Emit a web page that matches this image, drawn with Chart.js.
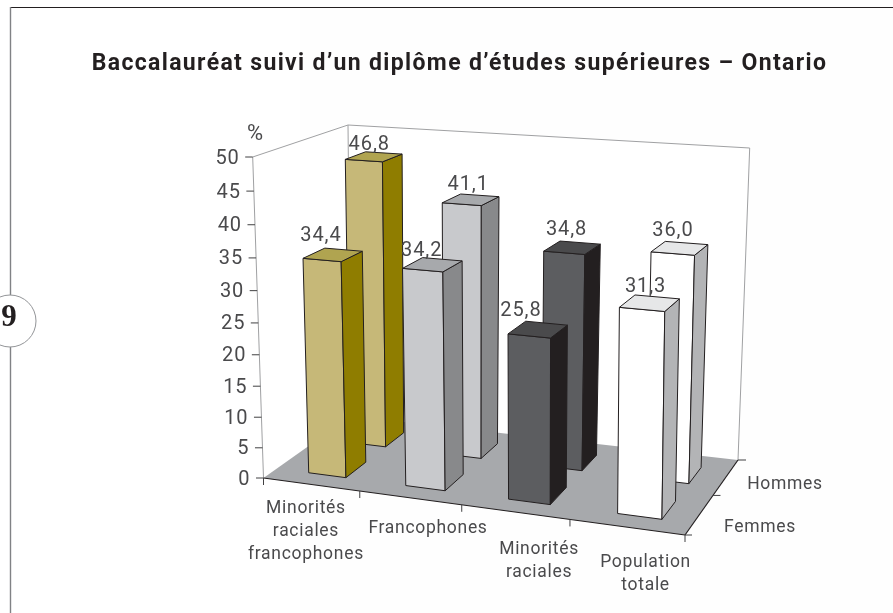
<!DOCTYPE html>
<html><head><meta charset="utf-8">
<style>html,body{margin:0;padding:0;background:#fff}canvas{display:block}</style>
<script src="https://cdn.jsdelivr.net/npm/chart.js@4"></script>
</head><body><canvas id="c" width="893" height="613"></canvas>
<script>
const categories = [["Minorités","raciales","francophones"],["Francophones"],["Minorités","raciales"],["Population","totale"]];
const femmes = [34.4,34.2,25.8,31.3];
const hommes = [46.8,41.1,34.8,36.0];
const frontColors = ["#c6b878","#c8c9cc","#5c5d60","#ffffff"];
const sideColors = ["#8f7d00","#88898b","#231f20","#b3b4b6"];
const topColors = ["#b0a450","#a7a9ac","#4a4a4c","#e6e7e8"];
const titleText = "Baccalauréat suivi d’un diplôme d’études supérieures – Ontario";
const FONT = "Roboto";

// Scene frame of the 3D box (unit cube -> picture)
const floorQuad = [[263.5,478],[685,535],[738,460],[351,416]];
const topFrame = {front:[252.7,157],backRight:[749.7,148],backLeft:[348,125]};
const depthBands = {Femmes:[0.14,0.37],Hommes:[0.61,0.84]};
const uShift = 0.009;
const labelNudge = [[-5,24],[18,31],[24,38],[19,36]];
const valueNudge = {Femmes:[[-22.5,-14],[-20.5,-8],[-25.5,-12],[-11.5,-10]],Hommes:[[-14.5,-8],[-11.5,-10],[-13.5,-13],[-13.5,-12]]};

const [[x0,y0],[x1,y1],[x2,y2],[x3,y3]] = floorQuad;
const dx1=x1-x2,dx2=x3-x2,dx3=x0-x1+x2-x3,dy1=y1-y2,dy2=y3-y2,dy3=y0-y1+y2-y3;
const den=dx1*dy2-dx2*dy1, G=(dx3*dy2-dx2*dy3)/den, H=(dx1*dy3-dx3*dy1)/den;
function numerators(P0,P3,P2){
  // same projective denominator for floor and top so that verticals stay coherent
  const c=P0, b=P3*(1+H)-c, a=P2*(1+G+H)-c-b;
  return [a,b,c];
}
const fx=numerators(x0,x3,x2), fy=numerators(y0,y3,y2);
const tx=numerators(topFrame.front[0],topFrame.backLeft[0],topFrame.backRight[0]);
const ty=numerators(topFrame.front[1],topFrame.backLeft[1],topFrame.backRight[1]);
function project(u,d,f){
  const w=G*u+H*d+1, g=f/(1.07-0.07*f);
  const px=(fx[0]*u+fx[1]*d+fx[2])/w, py=(fy[0]*u+fy[1]*d+fy[2])/w;
  const qx=(tx[0]*u+tx[1]*d+tx[2])/w, qy=(ty[0]*u+ty[1]*d+ty[2])/w;
  return [px+g*(qx-px), py+g*(qy-py)];
}
function poly(ctx,pts,fill,stroke,lw){
  ctx.beginPath();pts.forEach((p,i)=>i?ctx.lineTo(p[0],p[1]):ctx.moveTo(p[0],p[1]));ctx.closePath();
  if(fill){ctx.fillStyle=fill;ctx.fill();}
  if(stroke){ctx.strokeStyle=stroke;ctx.lineWidth=lw||1;ctx.lineJoin='round';ctx.stroke();}
}
function line(ctx,a,b,color,lw){ctx.beginPath();ctx.moveTo(a[0],a[1]);ctx.lineTo(b[0],b[1]);ctx.strokeStyle=color;ctx.lineWidth=lw||1;ctx.stroke();}
function text(ctx,s,x,y,font,color,align,sp){
  ctx.save();ctx.font=font;ctx.fillStyle=color;ctx.textAlign=align||'center';ctx.textBaseline='middle';ctx.letterSpacing=sp||'0px';ctx.fillText(s,x,y);ctx.restore();
}
class Box3D extends Chart.BarElement{
  static id='box3d';
  draw(ctx){
    const chart=this.$chart3d; if(!chart) return;
    const xs=chart.scales.x, ys=chart.scales.y;
    const U=x=>(x-xs.left)/(xs.right-xs.left)+uShift;
    const u0=U(this.x-this.width/2),u1=U(this.x+this.width/2);
    const f=(ys.bottom-this.y)/(ys.bottom-ys.top);
    const [d0,d1]=this.$band;
    const i=frontColors.indexOf(this.options.backgroundColor);
    const s='#231f20';
    ctx.save();
    poly(ctx,[project(u0,d0,0),project(u1,d0,0),project(u1,d0,f),project(u0,d0,f)],frontColors[i],s);
    poly(ctx,[project(u1,d0,0),project(u1,d1,0),project(u1,d1,f),project(u1,d0,f)],sideColors[i],s);
    poly(ctx,[project(u0,d0,f),project(u1,d0,f),project(u1,d1,f),project(u0,d1,f)],topColors[i],s);
    ctx.restore();
  }
}
class Bar3D extends Chart.BarController{
  static id='bar3d';
  static defaults={...Chart.BarController.defaults,dataElementType:'box3d'};
  updateElements(rects,start,count,mode){
    super.updateElements(rects,start,count,mode);
    rects.forEach(r=>{r.$chart3d=this.chart;r.$band=depthBands[this.getDataset().label];});
  }
}
Chart.register(Box3D,Bar3D);

const numFont='400 20px '+FONT, catFont='400 17.5px '+FONT, col='#4a4a4c';
const scene={
  id:'scene',
  beforeDraw(chart){
    const ctx=chart.ctx;
    ctx.save();
    ctx.fillStyle='#fff';ctx.fillRect(0,0,chart.width,chart.height);
    ctx.fillStyle='#fefefe';ctx.fillRect(300,0,chart.width-300,chart.height);
    line(ctx,[10,7.5],[893,7.5],'#231f20',1.2);
    line(ctx,[10.5,7],[10.5,613],'#808285',1.4);
    ctx.beginPath();ctx.arc(10,321,26,0,Math.PI*2);ctx.fillStyle='#fff';ctx.fill();ctx.strokeStyle='#939598';ctx.lineWidth=1;ctx.stroke();
    text(ctx,'9',9,318,'bold 31px "Liberation Serif"','#231f20');
    ctx.restore();
    ctx.letterSpacing='1.35px';
  },
  beforeDatasetsDraw(chart){
    const ctx=chart.ctx, xs=chart.scales.x, ys=chart.scales.y;
    ctx.save();
    const grey='#a0a1a3';
    const A=project(0,0,0),B=project(1,0,0),C=project(1,1,0),D=project(0,1,0);
    const At=project(0,0,1),Ct=project(1,1,1),Dt=project(0,1,1);
    poly(ctx,[A,D,Dt,At],'#fff');
    poly(ctx,[D,C,Ct,Dt],'#fff');
    poly(ctx,[A,B,C,D],'#a7a9ac');
    line(ctx,A,At,grey);line(ctx,D,Dt,grey);line(ctx,At,Dt,grey);line(ctx,Dt,Ct,grey);line(ctx,Ct,C,grey);
    line(ctx,A,B,'#231f20',1.2);line(ctx,B,C,'#231f20',1.2);
    ys.ticks.forEach(t=>{
      const f=(ys.bottom-ys.getPixelForValue(t.value))/(ys.bottom-ys.top);
      const p=project(0,0,f);
      line(ctx,[p[0]-7.5,p[1]],p,'#414042');
      text(ctx,String(t.value),p[0]-13,p[1]+1.5,numFont,col,'right','0.9px');
    });
    text(ctx,'%',255,134,'400 22px '+FONT,col);
    const n=xs.getLabels().length;
    for(let k=0;k<=n;k++){
      const p=project(k/n,0,0);
      line(ctx,p,[p[0],p[1]+7],'#414042');
    }
    xs.getLabels().forEach((lab,i)=>{
      const p=project((i+.5)/n,0,0), nud=labelNudge[i];
      lab.forEach((s,j)=>text(ctx,s,p[0]+nud[0],p[1]+nud[1]+j*23,catFont,col,'center','0.7px'));
    });
    const M=project(1,.5,0);
    line(ctx,M,[M[0]+7.5,M[1]],'#414042');
    line(ctx,C,[C[0]+8,C[1]],'#414042');
    line(ctx,B,[B[0]+7,B[1]],'#414042');
    text(ctx,chart.data.datasets[1].label,C[0]+47,C[1]+25,catFont,col,'center','0.7px');
    text(ctx,chart.data.datasets[0].label,M[0]+47,M[1]+32,catFont,col,'center','0.7px');
    ctx.restore();
  },
  afterDatasetsDraw(chart){
    const ctx=chart.ctx, xs=chart.scales.x, ys=chart.scales.y;
    chart.data.datasets.forEach((ds,di)=>{
      const meta=chart.getDatasetMeta(di), b=depthBands[ds.label];
      meta.data.forEach((r,i)=>{
        const u=(r.x-xs.left)/(xs.right-xs.left)+uShift;
        const f=(ys.bottom-r.y)/(ys.bottom-ys.top);
        const p=project(u,b[1],f), nud=valueNudge[ds.label][i];
        text(ctx,ds.data[i].toFixed(1).replace('.',','),p[0]+nud[0],p[1]+nud[1],numFont,col,'center','0.9px');
      });
    });
  }
};
new Chart(document.getElementById('c'),{
  type:'bar3d',
  data:{labels:categories,datasets:[
    {label:'Femmes',data:femmes,backgroundColor:frontColors},
    {label:'Hommes',data:hommes,backgroundColor:frontColors}
  ]},
  options:{
    responsive:false,animation:false,
    grouped:false,categoryPercentage:1,barPercentage:0.39,
    layout:{padding:{left:26,top:0}},
    scales:{
      x:{type:'category',offset:true,display:false},
      y:{type:'linear',min:0,max:50,display:false,ticks:{stepSize:5}}
    },
    plugins:{
      legend:{display:false},tooltip:{enabled:false},
      title:{display:true,text:titleText,color:'#231f20',font:{family:FONT,weight:'bold',size:23,lineHeight:1.2},padding:{top:50,bottom:10}}
    }
  },
  plugins:[scene]
});
</script></body></html>
